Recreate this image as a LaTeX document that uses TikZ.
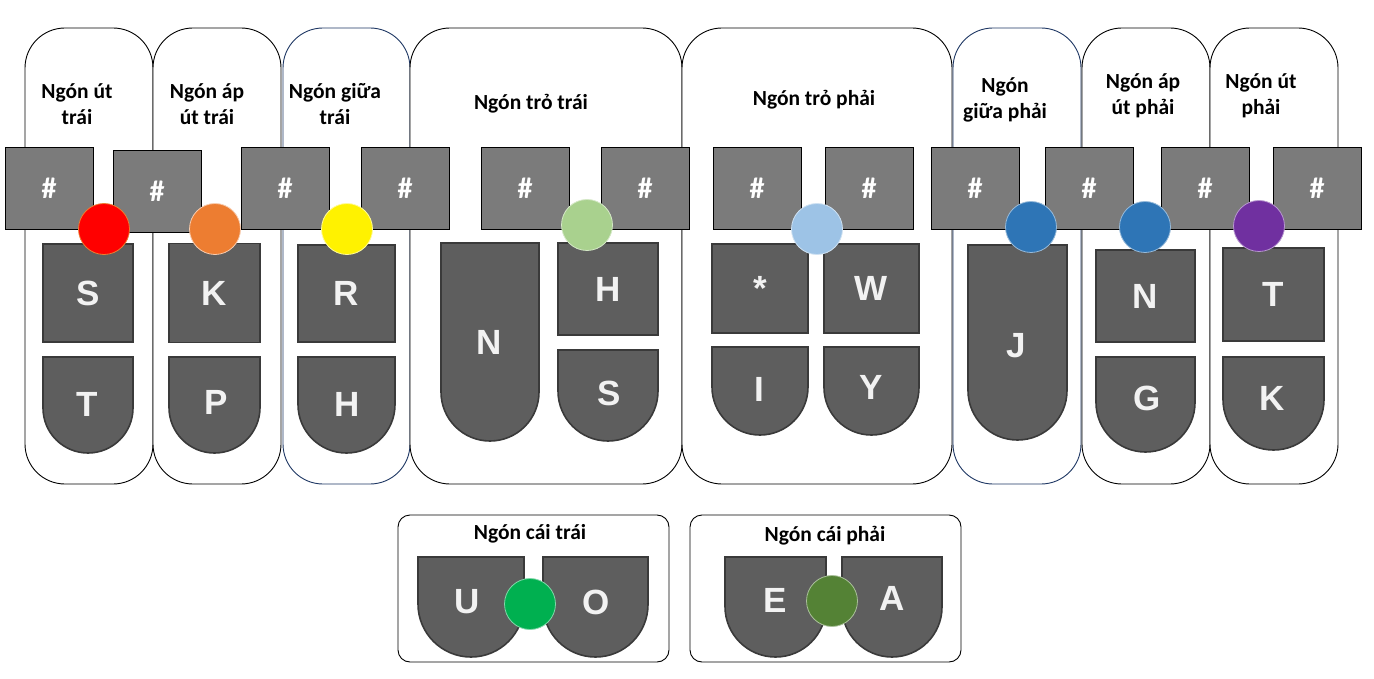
\documentclass[tikz,border=0pt]{standalone}
\usepackage{fontspec}
\setmainfont{Carlito}
\newfontfamily\keyfont{Liberation Sans}
\definecolor{keyfill}{HTML}{5E5E5E}
\definecolor{keyline}{HTML}{3A3A3A}
\definecolor{hashfill}{HTML}{7B7B7B}
\definecolor{navy}{HTML}{1F3864}
\definecolor{cOrange}{HTML}{ED7D31}
\definecolor{cLgreen}{HTML}{A9D18E}
\definecolor{cLblue}{HTML}{9DC3E6}
\definecolor{cBlue}{HTML}{2E75B6}
\definecolor{cPurple}{HTML}{7030A0}
\definecolor{cGreen}{HTML}{00B050}
\definecolor{cDgreen}{HTML}{548235}
\definecolor{letter}{HTML}{F2F2F2}
\begin{document}
\begin{tikzpicture}[x=1pt,y=-1pt,
  finger/.style={draw=black, line width=0.9pt, fill=white, rounded corners=40pt, inner sep=0pt},
  thumbbox/.style={draw=black, line width=0.9pt, fill=white, rounded corners=12pt, inner sep=0pt},
  title/.style={font=\fontsize{21.5}{26}\selectfont\bfseries, align=center, inner sep=0pt},
  hash/.style={draw=black, line width=0.7pt, fill=hashfill, minimum width=88pt, minimum height=82pt, inner sep=0pt, text=white, font=\fontsize{30}{30}\selectfont\bfseries},
  sqkey/.style={draw=keyline, line width=1.6pt, fill=keyfill, inner sep=0pt, text=letter, font=\keyfont\fontsize{35}{35}\selectfont\bfseries},
  keyst/.style={draw=keyline, line width=1.6pt, fill=keyfill},
  keylabel/.style={text=letter, font=\keyfont\fontsize{35}{35}\selectfont\bfseries, inner sep=0pt},
  dot/.style={circle, minimum size=51pt, inner sep=0pt, line width=0.8pt}
]
\useasboundingbox (0,0) rectangle (1374,679);
\fill[white] (0,0) rectangle (1374,679);

% finger boxes
\node[finger, minimum width=128pt, minimum height=456pt] (f1) at (89,256) {};
\node[finger, minimum width=128pt, minimum height=456pt] (f2) at (217,256) {};
\node[finger, draw=navy, minimum width=127pt, minimum height=456pt] (f3) at (346.5,256) {};
\node[finger, minimum width=272pt, minimum height=456pt] (f4) at (546,256) {};
\node[finger, minimum width=270pt, minimum height=456pt] (f5) at (817,256) {};
\node[finger, draw=navy, minimum width=128pt, minimum height=456pt] (f6) at (1017,256) {};
\node[finger, minimum width=128pt, minimum height=456pt] (f7) at (1146,256) {};
\node[finger, minimum width=128pt, minimum height=456pt] (f8) at (1274,256) {};

% thumb boxes
\node[thumbbox, minimum width=271pt, minimum height=147pt] (b1) at (533.5,588.5) {};
\node[thumbbox, minimum width=271pt, minimum height=147pt] (b2) at (825.5,588.5) {};

% titles
\node[title] (t1) at (77,104) {Ngón út\\trái};
\node[title] (t2) at (207,104) {Ngón áp\\út trái};
\node[title] (t3) at (335,104) {Ngón giữa\\trái};
\node[title] (t4) at (531,104) {Ngón trỏ trái};
\node[title] (t5) at (814,100) {Ngón trỏ phải};
\node[title] (t6) at (1005,100) {Ngón\\giữa phải};
\node[title] (t7) at (1143,96) {Ngón áp\\út phải};
\node[title] (t8) at (1261,96) {Ngón út\\phải};
\node[title] (t9) at (530,534) {Ngón cái trái};
\node[title] (t10) at (825,536) {Ngón cái phải};

% keys, left hand
\node[sqkey, minimum width=90pt, minimum height=98pt] (kS) at (88,293) {S};
\draw[keyst] (43,357) -- (133,357) -- (133,408) arc[start angle=0,end angle=-180,radius=45pt] -- cycle;
\node[keylabel] (kT) at (87,404) {T};
\node[sqkey, minimum width=91pt, minimum height=99pt] (kK) at (214.5,293) {K};
\draw[keyst] (169,357) -- (260,357) -- (260,407.5) arc[start angle=0,end angle=-180,radius=45.5pt] -- cycle;
\node[keylabel] (kP) at (216,402) {P};
\node[sqkey, minimum width=97pt, minimum height=97pt] (kR) at (346.5,293.5) {R};
\draw[keyst] (298,357) -- (395,357) -- (395,404.5) arc[start angle=0,end angle=-180,radius=48.5pt] -- cycle;
\node[keylabel] (kH1) at (347,404) {H};
\draw[keyst] (441,243) -- (539,243) -- (539,392) arc[start angle=0,end angle=-180,radius=49pt] -- cycle;
\node[keylabel] (kN1) at (489,342) {N};
\node[sqkey, minimum width=100pt, minimum height=92pt] (kH2) at (608,289) {H};
\draw[keyst] (558,350) -- (658,350) -- (658,391) arc[start angle=0,end angle=-180,radius=50pt] -- cycle;
\node[keylabel] (kS2) at (609,393) {S};

% keys, right hand
\node[sqkey, minimum width=96pt, minimum height=89pt] (kStar) at (760,288.5) {*};
\node[sqkey, minimum width=95pt, minimum height=89pt] (kW) at (871.5,288.5) {W};
\draw[keyst] (712,347) -- (808,347) -- (808,387) arc[start angle=0,end angle=-180,radius=48pt] -- cycle;
\node[keylabel] (kI) at (759,389) {I};
\draw[keyst] (824,347) -- (919,347) -- (919,387.5) arc[start angle=0,end angle=-180,radius=47.5pt] -- cycle;
\node[keylabel] (kY) at (871,387) {Y};
\draw[keyst] (968,245) -- (1067,245) -- (1067,390.5) arc[start angle=0,end angle=-180,radius=49.5pt] -- cycle;
\node[keylabel] (kJ) at (1016,346) {J};
\node[sqkey, minimum width=99pt, minimum height=92pt] (kN2) at (1145.5,296) {N};
\draw[keyst] (1096,357) -- (1195,357) -- (1195,402.5) arc[start angle=0,end angle=-180,radius=49.5pt] -- cycle;
\node[keylabel] (kG) at (1147,398) {G};
\node[sqkey, minimum width=101pt, minimum height=93pt] (kT2) at (1273.5,294.5) {T};
\draw[keyst] (1223,357) -- (1324,357) -- (1324,399.5) arc[start angle=0,end angle=-180,radius=50.5pt] -- cycle;
\node[keylabel] (kK2) at (1272,398) {K};

% thumb keys
\draw[keyst] (418,557) -- (524,557) -- (524,604) arc[start angle=0,end angle=-180,radius=53pt] -- cycle;
\node[keylabel] (kU) at (467,602) {U};
\draw[keyst] (543,557) -- (648,557) -- (648,604.5) arc[start angle=0,end angle=-180,radius=52.5pt] -- cycle;
\node[keylabel] (kO) at (596,602) {O};
\draw[keyst] (725,557) -- (826,557) -- (826,606.5) arc[start angle=0,end angle=-180,radius=50.5pt] -- cycle;
\node[keylabel] (kE) at (775,600) {E};
\draw[keyst] (842,557) -- (942,557) -- (942,607) arc[start angle=0,end angle=-180,radius=50pt] -- cycle;
\node[keylabel] (kA) at (892,598) {A};

% hash keys
\node[hash] (h1) at (49,188) {\#};
\node[hash] (h2) at (157,191.5) {\#};
\node[hash] (h3) at (285,188) {\#};
\node[hash] (h4) at (405,188) {\#};
\node[hash] (h5) at (525,188) {\#};
\node[hash] (h6) at (645,188) {\#};
\node[hash] (h7) at (757,188) {\#};
\node[hash] (h8) at (869,188) {\#};
\node[hash] (h9) at (975,188) {\#};
\node[hash] (h10) at (1089,188) {\#};
\node[hash] (h11) at (1205,188) {\#};
\node[hash] (h12) at (1317,188) {\#};

% finger dots
\node[dot, fill=red, draw=cOrange] (d1) at (104,229) {};
\node[dot, fill=cOrange, draw=white!60!cOrange] (d2) at (215,229) {};
\node[dot, fill=yellow, draw=white!60!yellow] (d3) at (347,229) {};
\node[dot, fill=cLgreen, draw=white!50!cLgreen] (d4) at (587,225) {};
\node[dot, fill=cLblue, draw=white!50!cLblue] (d5) at (817,229) {};
\node[dot, fill=cBlue, draw=white!50!cBlue] (d6) at (1031,227) {};
\node[dot, fill=cBlue, draw=white!50!cBlue] (d7) at (1145,227) {};
\node[dot, fill=cPurple, draw=white!50!cPurple] (d8) at (1259,226) {};
\node[dot, fill=cGreen, draw=white!50!cGreen] (d9) at (530,604) {};
\node[dot, fill=cDgreen, draw=white!50!cDgreen] (d10) at (832,601) {};
\end{tikzpicture}
\end{document}
